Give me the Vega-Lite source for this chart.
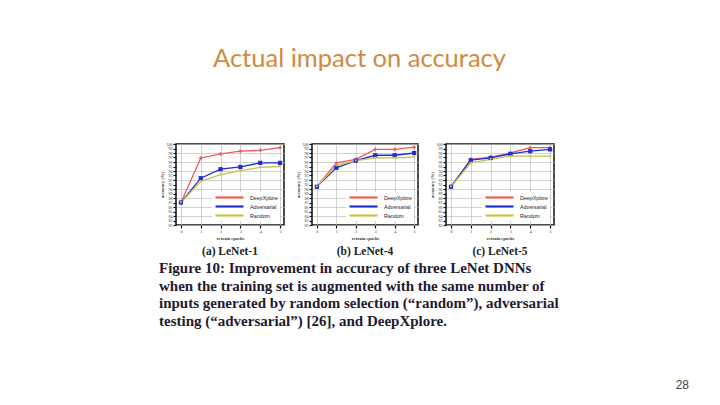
{
  "$schema": "https://vega.github.io/schema/vega-lite/v6.json",
  "background": "white",
  "padding": {"left": 158, "top": 46, "right": 0, "bottom": 0},
  "title": {"text": "Actual impact on accuracy", "font": "Lato", "fontSize": 25.5, "fontWeight": "normal", "color": "#D28A3E", "anchor": "start", "frame": "group", "dx": 37, "offset": 69},
  "config": {
    "view": {"stroke": "#111111", "strokeWidth": 1.5},
    "axis": {"labelFont": "Liberation Serif", "labelFontSize": 4, "labelColor": "#333333", "tickColor": "#111111", "tickSize": 3, "tickWidth": 1.2, "labelPadding": 1, "domain": false, "gridColor": "#bdbdbd", "gridWidth": 0.7, "titleFont": "Liberation Serif", "titleFontSize": 4.5, "titleFontWeight": "bold", "titleColor": "#333333", "titlePadding": 2},
    "legend": {"orient": "bottom-right", "offset": 4, "fillColor": "white", "padding": 2, "symbolSize": 49, "symbolStrokeWidth": 2.2, "labelFont": "Liberation Sans", "labelFontSize": 5.3, "labelColor": "#222222", "rowPadding": 2, "labelOffset": 26, "clipHeight": 7}
  },
  "datasets": {
    "lines": [
      {"net": "LeNet-1", "epoch": 0, "series": "DeepXplore", "acc": 87.0},
      {"net": "LeNet-1", "epoch": 1, "series": "DeepXplore", "acc": 96.9},
      {"net": "LeNet-1", "epoch": 2, "series": "DeepXplore", "acc": 97.8},
      {"net": "LeNet-1", "epoch": 3, "series": "DeepXplore", "acc": 98.4},
      {"net": "LeNet-1", "epoch": 4, "series": "DeepXplore", "acc": 98.6},
      {"net": "LeNet-1", "epoch": 5, "series": "DeepXplore", "acc": 99.2},
      {"net": "LeNet-1", "epoch": 0, "series": "Adversarial", "acc": 87.0},
      {"net": "LeNet-1", "epoch": 1, "series": "Adversarial", "acc": 92.4},
      {"net": "LeNet-1", "epoch": 2, "series": "Adversarial", "acc": 94.4},
      {"net": "LeNet-1", "epoch": 3, "series": "Adversarial", "acc": 94.9},
      {"net": "LeNet-1", "epoch": 4, "series": "Adversarial", "acc": 95.8},
      {"net": "LeNet-1", "epoch": 5, "series": "Adversarial", "acc": 95.8},
      {"net": "LeNet-1", "epoch": 0, "series": "Random", "acc": 87.0},
      {"net": "LeNet-1", "epoch": 1, "series": "Random", "acc": 91.7},
      {"net": "LeNet-1", "epoch": 2, "series": "Random", "acc": 93.2},
      {"net": "LeNet-1", "epoch": 3, "series": "Random", "acc": 94.1},
      {"net": "LeNet-1", "epoch": 4, "series": "Random", "acc": 94.8},
      {"net": "LeNet-1", "epoch": 5, "series": "Random", "acc": 95.0},
      {"net": "LeNet-4", "epoch": 0, "series": "DeepXplore", "acc": 90.5},
      {"net": "LeNet-4", "epoch": 1, "series": "DeepXplore", "acc": 95.8},
      {"net": "LeNet-4", "epoch": 2, "series": "DeepXplore", "acc": 96.6},
      {"net": "LeNet-4", "epoch": 3, "series": "DeepXplore", "acc": 98.8},
      {"net": "LeNet-4", "epoch": 4, "series": "DeepXplore", "acc": 98.8},
      {"net": "LeNet-4", "epoch": 5, "series": "DeepXplore", "acc": 99.3},
      {"net": "LeNet-4", "epoch": 0, "series": "Adversarial", "acc": 90.5},
      {"net": "LeNet-4", "epoch": 1, "series": "Adversarial", "acc": 94.7},
      {"net": "LeNet-4", "epoch": 2, "series": "Adversarial", "acc": 96.3},
      {"net": "LeNet-4", "epoch": 3, "series": "Adversarial", "acc": 97.5},
      {"net": "LeNet-4", "epoch": 4, "series": "Adversarial", "acc": 97.5},
      {"net": "LeNet-4", "epoch": 5, "series": "Adversarial", "acc": 98.0},
      {"net": "LeNet-4", "epoch": 0, "series": "Random", "acc": 90.5},
      {"net": "LeNet-4", "epoch": 1, "series": "Random", "acc": 95.2},
      {"net": "LeNet-4", "epoch": 2, "series": "Random", "acc": 96.3},
      {"net": "LeNet-4", "epoch": 3, "series": "Random", "acc": 96.9},
      {"net": "LeNet-4", "epoch": 4, "series": "Random", "acc": 96.9},
      {"net": "LeNet-4", "epoch": 5, "series": "Random", "acc": 97.1},
      {"net": "LeNet-5", "epoch": 0, "series": "DeepXplore", "acc": 90.5},
      {"net": "LeNet-5", "epoch": 1, "series": "DeepXplore", "acc": 96.6},
      {"net": "LeNet-5", "epoch": 2, "series": "DeepXplore", "acc": 97.1},
      {"net": "LeNet-5", "epoch": 3, "series": "DeepXplore", "acc": 98.0},
      {"net": "LeNet-5", "epoch": 4, "series": "DeepXplore", "acc": 99.2},
      {"net": "LeNet-5", "epoch": 5, "series": "DeepXplore", "acc": 99.2},
      {"net": "LeNet-5", "epoch": 0, "series": "Adversarial", "acc": 90.5},
      {"net": "LeNet-5", "epoch": 1, "series": "Adversarial", "acc": 96.4},
      {"net": "LeNet-5", "epoch": 2, "series": "Adversarial", "acc": 96.9},
      {"net": "LeNet-5", "epoch": 3, "series": "Adversarial", "acc": 97.8},
      {"net": "LeNet-5", "epoch": 4, "series": "Adversarial", "acc": 98.4},
      {"net": "LeNet-5", "epoch": 5, "series": "Adversarial", "acc": 98.8},
      {"net": "LeNet-5", "epoch": 0, "series": "Random", "acc": 90.5},
      {"net": "LeNet-5", "epoch": 1, "series": "Random", "acc": 95.8},
      {"net": "LeNet-5", "epoch": 2, "series": "Random", "acc": 96.6},
      {"net": "LeNet-5", "epoch": 3, "series": "Random", "acc": 97.3},
      {"net": "LeNet-5", "epoch": 4, "series": "Random", "acc": 97.3},
      {"net": "LeNet-5", "epoch": 5, "series": "Random", "acc": 97.3}
    ],
    "caption": [
      {"line": 1, "text": "Figure 10: Improvement in accuracy of three LeNet DNNs"},
      {"line": 2, "text": "when the training set is augmented with the same number of"},
      {"line": 3, "text": "inputs generated by random selection (“random”), adversarial"},
      {"line": 4, "text": "testing (“adversarial”) [26], and DeepXplore."}
    ]
  },
  "vconcat": [
    {
      "hconcat": [
        {
          "width": 108, "height": 81,
          "data": {"name": "lines"},
          "title": {"text": "(a) LeNet-1", "orient": "bottom", "font": "Liberation Serif", "fontSize": 11.5, "fontWeight": "bold", "color": "#222222", "offset": 6},
          "transform": [{"filter": "datum.net === 'LeNet-1'"}],
          "encoding": {
            "x": {"field": "epoch", "type": "quantitative", "scale": {"domain": [-0.25, 5.2], "nice": false, "zero": false}, "axis": {"values": [0, 1, 2, 3, 4, 5], "title": "retrain epochs", "grid": true}},
            "y": {"field": "acc", "type": "quantitative", "scale": {"domain": [82, 100], "nice": false, "zero": false}, "axis": {"values": [82, 83, 84, 85, 86, 87, 88, 89, 90, 91, 92, 93, 94, 95, 96, 97, 98, 99, 100], "title": "accuracy (%)", "grid": true, "gridOpacity": {"condition": {"test": "datum.value % 2 === 0", "value": 1}, "value": 0}}},
            "color": {"field": "series", "type": "nominal", "scale": {"domain": ["DeepXplore", "Adversarial", "Random"], "range": ["#EE5A5A", "#1F2FD6", "#C9C24A"]}, "legend": {"title": null, "orient": "bottom-right", "symbolType": "M-1,0H7", "clipHeight": 7, "rowPadding": 2, "labelOffset": 26}}
          },
          "layer": [
            {"mark": {"type": "line", "strokeWidth": 1.3}},
            {"transform": [{"filter": "datum.series === 'DeepXplore'"}], "mark": {"type": "point", "shape": "cross", "filled": true, "size": 12, "opacity": 1}},
            {"transform": [{"filter": "datum.series === 'Adversarial'"}], "mark": {"type": "point", "shape": "square", "filled": true, "size": 18, "opacity": 1}},
            {"transform": [{"filter": "datum.series === 'Random'"}], "mark": {"type": "point", "shape": "triangle-down", "filled": true, "size": 8, "opacity": 1}}
          ]
        },
        {
          "width": 106, "height": 81,
          "data": {"name": "lines"},
          "title": {"text": "(b) LeNet-4", "orient": "bottom", "font": "Liberation Serif", "fontSize": 11.5, "fontWeight": "bold", "color": "#222222", "offset": 6},
          "transform": [{"filter": "datum.net === 'LeNet-4'"}],
          "encoding": {
            "x": {"field": "epoch", "type": "quantitative", "scale": {"domain": [-0.25, 5.2], "nice": false, "zero": false}, "axis": {"values": [0, 1, 2, 3, 4, 5], "title": "retrain epochs", "grid": true}},
            "y": {"field": "acc", "type": "quantitative", "scale": {"domain": [82, 100], "nice": false, "zero": false}, "axis": {"values": [82, 83, 84, 85, 86, 87, 88, 89, 90, 91, 92, 93, 94, 95, 96, 97, 98, 99, 100], "title": "accuracy (%)", "grid": true, "gridOpacity": {"condition": {"test": "datum.value % 2 === 0", "value": 1}, "value": 0}}},
            "color": {"field": "series", "type": "nominal", "scale": {"domain": ["DeepXplore", "Adversarial", "Random"], "range": ["#EE5A5A", "#1F2FD6", "#C9C24A"]}, "legend": {"title": null, "orient": "bottom-right", "symbolType": "M-1,0H7", "clipHeight": 7, "rowPadding": 2, "labelOffset": 26}}
          },
          "layer": [
            {"mark": {"type": "line", "strokeWidth": 1.3}},
            {"transform": [{"filter": "datum.series === 'DeepXplore'"}], "mark": {"type": "point", "shape": "cross", "filled": true, "size": 12, "opacity": 1}},
            {"transform": [{"filter": "datum.series === 'Adversarial'"}], "mark": {"type": "point", "shape": "square", "filled": true, "size": 18, "opacity": 1}},
            {"transform": [{"filter": "datum.series === 'Random'"}], "mark": {"type": "point", "shape": "triangle-down", "filled": true, "size": 8, "opacity": 1}}
          ]
        },
        {
          "width": 108, "height": 81,
          "data": {"name": "lines"},
          "title": {"text": "(c) LeNet-5", "orient": "bottom", "font": "Liberation Serif", "fontSize": 11.5, "fontWeight": "bold", "color": "#222222", "offset": 6},
          "transform": [{"filter": "datum.net === 'LeNet-5'"}],
          "encoding": {
            "x": {"field": "epoch", "type": "quantitative", "scale": {"domain": [-0.25, 5.2], "nice": false, "zero": false}, "axis": {"values": [0, 1, 2, 3, 4, 5], "title": "retrain epochs", "grid": true}},
            "y": {"field": "acc", "type": "quantitative", "scale": {"domain": [82, 100], "nice": false, "zero": false}, "axis": {"values": [82, 83, 84, 85, 86, 87, 88, 89, 90, 91, 92, 93, 94, 95, 96, 97, 98, 99, 100], "title": "accuracy (%)", "grid": true, "gridOpacity": {"condition": {"test": "datum.value % 2 === 0", "value": 1}, "value": 0}}},
            "color": {"field": "series", "type": "nominal", "scale": {"domain": ["DeepXplore", "Adversarial", "Random"], "range": ["#EE5A5A", "#1F2FD6", "#C9C24A"]}, "legend": {"title": null, "orient": "bottom-right", "symbolType": "M-1,0H7", "clipHeight": 7, "rowPadding": 2, "labelOffset": 26}}
          },
          "layer": [
            {"mark": {"type": "line", "strokeWidth": 1.3}},
            {"transform": [{"filter": "datum.series === 'DeepXplore'"}], "mark": {"type": "point", "shape": "cross", "filled": true, "size": 12, "opacity": 1}},
            {"transform": [{"filter": "datum.series === 'Adversarial'"}], "mark": {"type": "point", "shape": "square", "filled": true, "size": 18, "opacity": 1}},
            {"transform": [{"filter": "datum.series === 'Random'"}], "mark": {"type": "point", "shape": "triangle-down", "filled": true, "size": 8, "opacity": 1}}
          ]
        }
      ],
      "spacing": 9,
      "resolve": {"scale": {"color": "independent", "x": "independent", "y": "independent"}, "legend": {"color": "independent"}}
    },
    {
      "width": 402, "height": 71,
      "view": {"stroke": null},
      "data": {"name": "caption"},
      "title": {"text": "28", "orient": "bottom", "anchor": "end", "dx": 111, "offset": 50, "font": "Liberation Sans", "fontSize": 12, "fontWeight": "normal", "color": "#404040"},
      "mark": {"type": "text", "align": "left", "baseline": "middle", "dx": -17, "font": "Liberation Serif", "fontWeight": "bold", "fontSize": 15, "color": "#231a30"},
      "encoding": {
        "x": {"datum": 0, "type": "quantitative", "scale": {"domain": [0, 1]}, "axis": null},
        "y": {"field": "line", "type": "ordinal", "axis": null},
        "text": {"field": "text"}
      }
    }
  ],
  "spacing": 1
}
